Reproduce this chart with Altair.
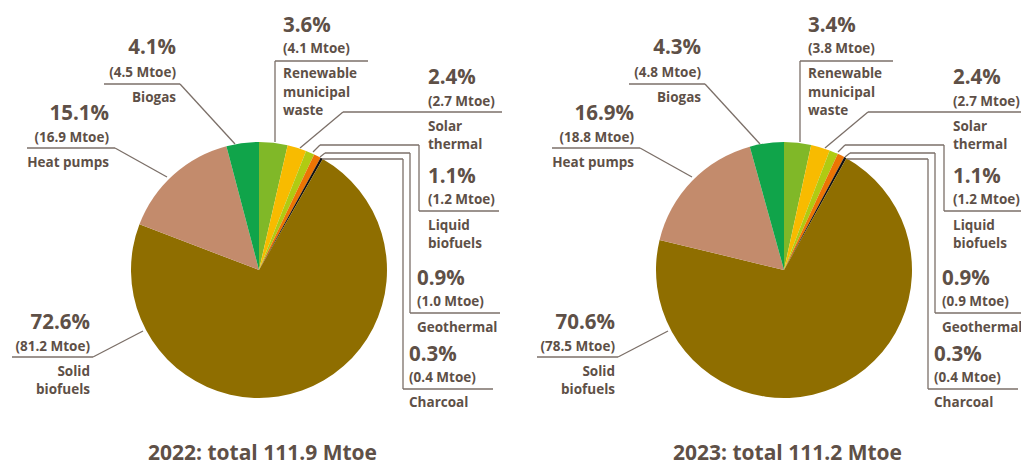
import altair as alt
import pandas as pd

# ---------------- data ----------------
categories = ["Renewable municipal waste", "Solar thermal", "Liquid biofuels", "Geothermal",
              "Charcoal", "Solid biofuels", "Heat pumps", "Biogas"]
label_lines = [["Renewable", "municipal", "waste"], ["Solar", "thermal"], ["Liquid", "biofuels"],
               ["Geothermal"], ["Charcoal"], ["Solid", "biofuels"], ["Heat pumps"], ["Biogas"]]
years = ["2022", "2023"]
share_2022 = [3.6, 2.4, 1.1, 0.9, 0.3, 72.6, 15.1, 4.1]
mtoe_2022 = [4.1, 2.7, 1.2, 1.0, 0.4, 81.2, 16.9, 4.5]
share_2023 = [3.4, 2.4, 1.1, 0.9, 0.3, 70.6, 16.9, 4.3]
mtoe_2023 = [3.8, 2.7, 1.2, 0.9, 0.4, 78.5, 18.8, 4.8]
totals = [111.9, 111.2]
colors = ["#80B828", "#F8BB00", "#B0CB12", "#EC7404", "#111111", "#8F6E00", "#C38B6C", "#10A44A"]

shares = [share_2022, share_2023]
mtoes = [mtoe_2022, mtoe_2023]

# ---------------- layout (pixels, relative to each pie centre) ----------------
W, H = 1013, 459
centers = [(259, 270), (784, 270)]
RADIUS = 128
TEXT = "#5E5047"
LINE = "#7B6F68"
FONT = "Open Sans"

# text anchor: (dx, align, pct baseline dy, mtoe baseline dy, name baselines dy)
text_layout = [
    (24, "left", -238, -217, [-192, -173, -155]),
    (169, "left", -186, -164, [-139, -121]),
    (169, "left", -87, -66, [-40, -22]),
    (158, "left", 15, 36, [62]),
    (150, "left", 91, 112, [137]),
    (-169, "right", 59, 81, [106, 124]),
    (-150, "right", -150, -128, [-103]),
    (-83, "right", -216, -193, [-168]),
]
leaders = [
    [(109, -209), (16, -209), (16, -128)],
    [(243, -158), (84, -158), (41, -122)],
    [(240, -59), (160, -59), (160, -125), (61, -125), (54, -118)],
    [(241, 43), (151, 43), (151, -117), (66, -117), (61, -113)],
    [(234, 119), (144, 119), (144, -111), (63, -111)],
    [(-247, 87), (-166, 87), (-116, 61)],
    [(-232, -122), (-144, -122), (-92, -93)],
    [(-155, -186), (-79, -186), (-24, -126)],
]
title_dy = 190

# ---------------- tables ----------------
pie_rows, text_rows, seg_rows = [], [], []
for p, yr in enumerate(years):
    cx, cy = centers[p]
    for i, cat in enumerate(categories):
        pie_rows.append({"year": yr, "category": cat, "share": shares[p][i], "idx": i})
        dx, align, py, my, nys = text_layout[i]
        text_rows.append({"x": cx + dx, "y": cy + py, "t": f"{shares[p][i]:.1f}%", "style": "big", "align": align})
        text_rows.append({"x": cx + dx, "y": cy + my, "t": f"({mtoes[p][i]:.1f} Mtoe)", "style": "small", "align": align})
        for ln, ny in zip(label_lines[i], nys):
            text_rows.append({"x": cx + dx, "y": cy + ny, "t": ln, "style": "small", "align": align})
        pts = leaders[i]
        for a, b in zip(pts[:-1], pts[1:]):
            seg_rows.append({"x": cx + a[0], "y": cy + a[1], "x2": cx + b[0], "y2": cy + b[1]})
    text_rows.append({"x": cx + 3.5, "y": cy + title_dy, "t": f"{yr}: total {totals[p]:.1f} Mtoe",
                      "style": "title", "align": "center"})

pie_df = pd.DataFrame(pie_rows)
text_df = pd.DataFrame(text_rows)
seg_df = pd.DataFrame(seg_rows)

xs = alt.Scale(domain=[8, 8 + W], nice=False, zero=False)
ys = alt.Scale(domain=[8, 8 + H], nice=False, zero=False, reverse=True)

layers = []
for p, yr in enumerate(years):
    cx, cy = centers[p]
    layers.append(
        alt.Chart(pie_df).transform_filter(alt.datum.year == yr).mark_arc(outerRadius=RADIUS).encode(
            theta=alt.Theta("share:Q", stack="normalize"),
            order=alt.Order("idx:Q"),
            color=alt.Color("category:N", scale=alt.Scale(domain=categories, range=colors), legend=None),
            x=alt.value(cx - 8),
            y=alt.value(cy - 8),
        )
    )

layers.append(
    alt.Chart(seg_df).mark_rule(color=LINE, strokeWidth=1.3).encode(
        x=alt.X("x:Q", scale=xs, axis=None),
        y=alt.Y("y:Q", scale=ys, axis=None),
        x2="x2:Q",
        y2="y2:Q",
    )
)

styles = {"big": (20.5, "bold"), "small": (13.5, "bold"), "title": (21, "bold")}
for style, (fs, fw) in styles.items():
    for align in ["left", "right", "center"]:
        sub = text_df[(text_df["style"] == style) & (text_df["align"] == align)]
        if len(sub) == 0:
            continue
        layers.append(
            alt.Chart(sub).mark_text(align=align, baseline="alphabetic", font=FONT, fontSize=fs,
                                     fontWeight=fw, color=TEXT).encode(
                x=alt.X("x:Q", scale=xs, axis=None),
                y=alt.Y("y:Q", scale=ys, axis=None),
                text="t:N",
            )
        )

chart = alt.layer(*layers).properties(
    width=W, height=H, padding=0, autosize=alt.AutoSizeParams(type="none")
).configure_view(stroke=None)

chart.save("out.html", embed_options={"renderer": "svg", "actions": False})
